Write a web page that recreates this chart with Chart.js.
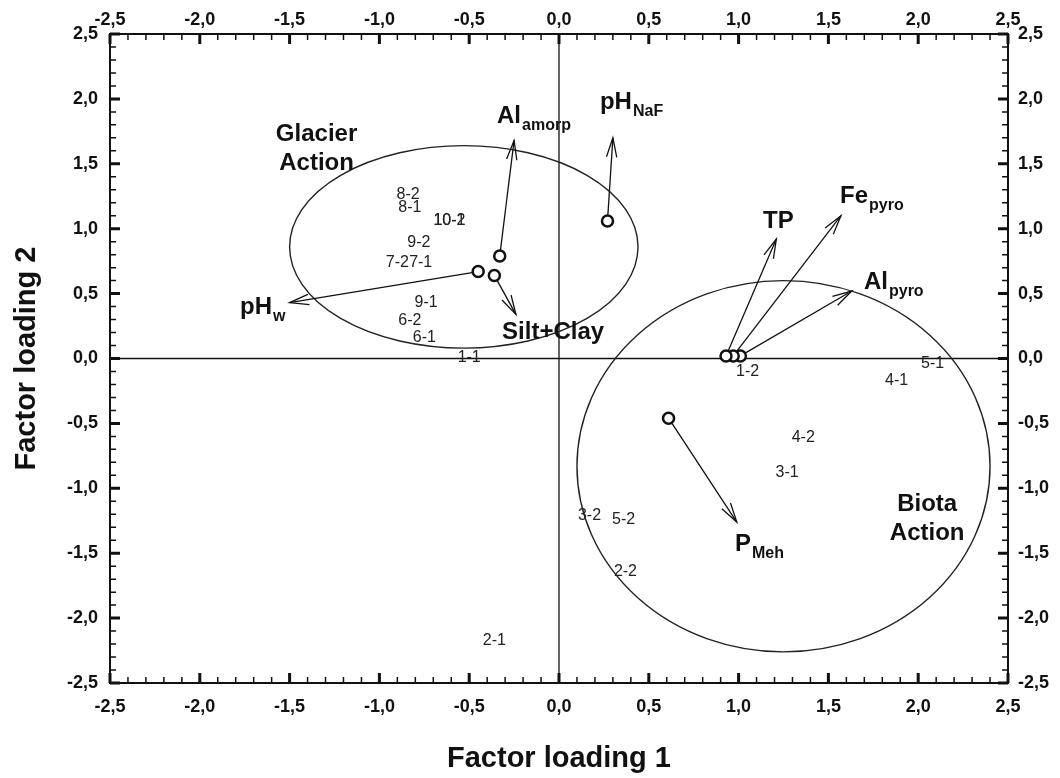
<!DOCTYPE html>
<html>
<head>
<meta charset="utf-8">
<script src="https://cdn.jsdelivr.net/npm/chart.js@4"></script>
<style>
  html, body { margin: 0; padding: 0; background: #fff; }
</style>
</head>
<body>
<canvas id="grafico" width="1060" height="778"></canvas>
<script>
// Marcas dos eixos (os quatro eixos usam a mesma escala)
const marcasMaiores = [-2.5, -2, -1.5, -1, -0.5, 0, 0.5, 1, 1.5, 2, 2.5];
const rotulosMarcas = ['-2,5', '-2,0', '-1,5', '-1,0', '-0,5', '0,0', '0,5', '1,0', '1,5', '2,0', '2,5'];

// Amostras (scores)
const amostras = ['8-2', '8-1', '10-1', '10-2', '9-2', '7-2', '7-1', '9-1', '6-2', '6-1', '1-1',
  '1-2', '5-1', '4-1', '4-2', '3-1', '3-2', '5-2', '2-2', '2-1'];
const amostraX = [-0.84, -0.83, -0.61, -0.61, -0.78, -0.90, -0.77, -0.74, -0.83, -0.75, -0.50,
  1.05, 2.08, 1.88, 1.36, 1.27, 0.17, 0.36, 0.37, -0.36];
const amostraY = [1.26, 1.16, 1.06, 1.06, 0.89, 0.74, 0.74, 0.43, 0.29, 0.16, 0.01,
  -0.10, -0.04, -0.17, -0.61, -0.88, -1.21, -1.24, -1.64, -2.17];

// Variaveis (loadings): origem do vetor, ponta da seta e posicao do rotulo
const variaveis = ['Al', 'pH', 'pH', 'Silt+Clay', 'TP', 'Fe', 'Al', 'P'];
const subscritos = ['amorp', 'NaF', 'w', '', '', 'pyro', 'pyro', 'Meh'];
const origemX = [-0.33, 0.27, -0.45, -0.36, 0.93, 0.97, 1.01, 0.61];
const origemY = [0.79, 1.06, 0.67, 0.64, 0.02, 0.02, 0.02, -0.46];
const pontaX = [-0.25, 0.30, -1.50, -0.24, 1.21, 1.57, 1.63, 0.99];
const pontaY = [1.68, 1.70, 0.43, 0.34, 0.92, 1.10, 0.52, -1.26];
const rotuloX = [-0.345, 0.228, -1.776, -0.317, 1.136, 1.565, 1.698, 0.980];
const rotuloY = [1.817, 1.925, 0.346, 0.154, 1.008, 1.201, 0.539, -1.486];

// Grupos (elipses)
const grupos = [['Glacier', 'Action'], ['Biota', 'Action']];
const elipseCX = [-0.53, 1.25];
const elipseCY = [0.86, -0.83];
const elipseRX = [0.97, 1.15];
const elipseRY = [0.78, 1.43];
const grupoX = [-1.35, 2.05];
const grupoY = [1.678, -1.178];

const FONTE = "'Liberation Sans', Arial, sans-serif";
const TINTA = '#111';

// marcas menores a cada 0,1
const marcasMenores = [];
for (let k = -25; k <= 25; k++) marcasMenores.push(k / 10);

function ehMaior(v) {
  return marcasMaiores.findIndex(m => Math.abs(m - v) < 1e-6);
}

function eixo(pos, tamanho, padding, titulo) {
  return {
    type: 'linear',
    position: pos,
    min: -2.5,
    max: 2.5,
    afterBuildTicks: s => { s.ticks = marcasMenores.map(v => ({ value: v })); },
    afterFit: s => {
      if (pos === 'left' || pos === 'right') s.width = tamanho;
      else s.height = tamanho;
    },
    grid: { display: true, drawOnChartArea: false, drawTicks: false },
    border: { display: true, color: TINTA, width: 2 },
    ticks: {
      autoSkip: false,
      maxRotation: 0,
      minRotation: 0,
      padding: padding,
      color: TINTA,
      font: { family: FONTE, size: 18, weight: 'bold' },
      callback: v => {
        const i = ehMaior(v);
        return i >= 0 ? rotulosMarcas[i] : '';
      }
    },
    title: titulo
  };
}

// Elipses e linhas do zero
const fundo = {
  id: 'fundo',
  beforeDatasetsDraw(chart) {
    const { ctx, chartArea: a, scales: { x, y } } = chart;
    ctx.save();
    ctx.strokeStyle = TINTA;
    ctx.lineWidth = 1.3;
    ctx.beginPath();
    ctx.moveTo(x.getPixelForValue(0), a.top);
    ctx.lineTo(x.getPixelForValue(0), a.bottom);
    ctx.moveTo(a.left, y.getPixelForValue(0));
    ctx.lineTo(a.right, y.getPixelForValue(0));
    ctx.stroke();

    ctx.lineWidth = 1.4;
    ctx.strokeStyle = '#222';
    grupos.forEach((g, i) => {
      const cx = x.getPixelForValue(elipseCX[i]);
      const cy = y.getPixelForValue(elipseCY[i]);
      const rx = Math.abs(x.getPixelForValue(elipseCX[i] + elipseRX[i]) - cx);
      const ry = Math.abs(y.getPixelForValue(elipseCY[i] + elipseRY[i]) - cy);
      ctx.beginPath();
      ctx.ellipse(cx, cy, rx, ry, 0, 0, Math.PI * 2);
      ctx.stroke();
    });
    ctx.restore();
  }
};

// Pontas das setas e textos
const textos = {
  id: 'textos',
  afterDatasetsDraw(chart) {
    const { ctx, scales: { x, y } } = chart;
    ctx.save();
    ctx.strokeStyle = TINTA;
    ctx.lineWidth = 1.3;
    variaveis.forEach((v, i) => {
      const x0 = x.getPixelForValue(origemX[i]), y0 = y.getPixelForValue(origemY[i]);
      const x1 = x.getPixelForValue(pontaX[i]), y1 = y.getPixelForValue(pontaY[i]);
      const ang = Math.atan2(y1 - y0, x1 - x0);
      const L = 20, abre = 0.26;
      ctx.beginPath();
      ctx.moveTo(x1 - L * Math.cos(ang - abre), y1 - L * Math.sin(ang - abre));
      ctx.lineTo(x1, y1);
      ctx.lineTo(x1 - L * Math.cos(ang + abre), y1 - L * Math.sin(ang + abre));
      ctx.stroke();
    });

    ctx.fillStyle = TINTA;
    ctx.textBaseline = 'alphabetic';
    ctx.textAlign = 'left';
    variaveis.forEach((v, i) => {
      const px = x.getPixelForValue(rotuloX[i]);
      const py = y.getPixelForValue(rotuloY[i]);
      ctx.font = 'bold 24px ' + FONTE;
      ctx.fillText(v, px, py);
      if (subscritos[i]) {
        const w = ctx.measureText(v).width;
        ctx.font = 'bold 16px ' + FONTE;
        ctx.fillText(subscritos[i], px + w + 1, py + 7);
      }
    });

    ctx.textAlign = 'center';
    ctx.font = 'bold 24px ' + FONTE;
    grupos.forEach((linhas, i) => {
      const px = x.getPixelForValue(grupoX[i]);
      const py = y.getPixelForValue(grupoY[i]);
      linhas.forEach((t, j) => ctx.fillText(t, px, py + j * 29));
    });

    ctx.fillStyle = '#222';
    ctx.font = '16px ' + FONTE;
    ctx.textBaseline = 'middle';
    amostras.forEach((a, i) => {
      ctx.fillText(a, x.getPixelForValue(amostraX[i]), y.getPixelForValue(amostraY[i]));
    });
    ctx.restore();
  }
};

// Marcas dos eixos voltadas para dentro
const marcasInternas = {
  id: 'marcasInternas',
  afterDraw(chart) {
    const { ctx, chartArea: a, scales: { x, y } } = chart;
    ctx.save();
    ctx.strokeStyle = TINTA;
    marcasMenores.forEach(v => {
      const maior = ehMaior(v) >= 0;
      const len = maior ? 10 : 6;
      const px = x.getPixelForValue(v);
      const py = y.getPixelForValue(v);
      ctx.lineWidth = maior ? 3 : 1.5;
      ctx.beginPath();
      ctx.moveTo(px, a.bottom); ctx.lineTo(px, a.bottom - len);
      ctx.moveTo(px, a.top); ctx.lineTo(px, a.top + len);
      ctx.moveTo(a.left, py); ctx.lineTo(a.left + len, py);
      ctx.moveTo(a.right, py); ctx.lineTo(a.right - len, py);
      ctx.stroke();
    });
    ctx.restore();
  }
};

const datasets = variaveis.map((v, i) => ({
  label: v + subscritos[i],
  data: [{ x: origemX[i], y: origemY[i] }, { x: pontaX[i], y: pontaY[i] }],
  showLine: true,
  borderColor: TINTA,
  borderWidth: 1.3,
  pointRadius: c => c.dataIndex === 0 ? 5.5 : 0,
  pointHoverRadius: c => c.dataIndex === 0 ? 5.5 : 0,
  pointBorderWidth: 2.5,
  pointBackgroundColor: '#fff',
  pointBorderColor: TINTA
}));

new Chart(document.getElementById('grafico'), {
  type: 'scatter',
  data: { datasets: datasets },
  options: {
    responsive: false,
    animation: false,
    layout: { padding: 0 },
    plugins: { legend: { display: false }, tooltip: { enabled: false } },
    scales: {
      x: eixo('bottom', 95, 13, {
        display: true, text: 'Factor loading 1', color: TINTA,
        font: { family: FONTE, size: 29, weight: 'bold' },
        padding: { top: 0, bottom: 2 }
      }),
      x2: eixo('top', 34, 3, { display: false }),
      y: eixo('left', 110, 12, {
        display: true, text: 'Factor loading 2', color: TINTA,
        font: { family: FONTE, size: 29, weight: 'bold' },
        padding: { top: 10, bottom: 0 }
      }),
      y2: eixo('right', 52, 10, { display: false })
    }
  },
  plugins: [fundo, textos, marcasInternas]
});
</script>
</body>
</html>
